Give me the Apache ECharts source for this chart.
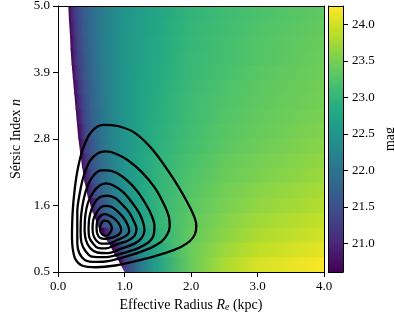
<!DOCTYPE html>
<html><head><meta charset="utf-8">
<script src="https://cdn.jsdelivr.net/npm/echarts@6/dist/echarts.min.js"></script>
<style>html,body{margin:0;padding:0;background:#fff}#c{width:394px;height:312px}</style>
</head><body><div id="c"></div>
<script>
// ---- data ----
const magMin = 20.61, magMax = 24.25;
// Re nodes (kpc) at which the surface-brightness field was read
const reNodes = [0.2, 0.25, 0.3, 0.4, 0.5, 0.6, 0.7, 0.8, 1.0, 1.25, 1.5, 2.0, 2.5, 3.0, 4.0];
// n band edges
const nEdges = [0.5,0.75,1.0,1.25,1.5,1.75,2.0,2.25,2.5,2.75,3.0,3.25,3.5,3.75,4.0,4.25,4.5,4.75,5.0];
// left edge of the coloured (defined) region, Re at each n edge
const boundaryRe = [1.00,0.87,0.75,0.61,0.52,0.45,0.40,0.365,0.335,0.305,0.285,0.265,0.245,0.225,0.205,0.19,0.18,0.165,0.155];
// mag values per n band (bottom to top) at reNodes (null = undefined / white)
const magRows = [
  [null,null,null,null,null,null,null,null,21.25,22.10,22.68,23.40,23.78,24.02,24.23],
  [null,null,null,null,null,null,null,null,21.70,22.35,22.82,23.40,23.70,23.90,24.12],
  [null,null,null,null,null,null,20.84,21.45,22.03,22.54,22.90,23.36,23.61,23.79,24.01],
  [null,null,null,null,null,20.98,21.49,21.79,22.26,22.67,22.97,23.33,23.56,23.72,23.92],
  [null,null,null,null,20.77,21.38,21.71,21.98,22.36,22.71,22.97,23.30,23.50,23.64,23.83],
  [null,null,null,null,21.19,21.59,21.86,22.08,22.42,22.75,22.97,23.26,23.46,23.59,23.77],
  [null,null,null,20.81,21.40,21.70,21.95,22.15,22.45,22.75,22.96,23.23,23.41,23.53,23.70],
  [null,null,null,21.05,21.48,21.77,22.00,22.17,22.47,22.74,22.93,23.19,23.37,23.48,23.65],
  [null,null,null,21.20,21.56,21.83,22.04,22.21,22.47,22.73,22.90,23.15,23.31,23.43,23.60],
  [null,null,20.66,21.30,21.63,21.87,22.07,22.23,22.48,22.71,22.89,23.12,23.29,23.39,23.56],
  [null,null,20.84,21.38,21.68,21.91,22.09,22.24,22.48,22.71,22.87,23.10,23.25,23.37,23.52],
  [null,null,21.00,21.44,21.73,21.94,22.11,22.26,22.49,22.71,22.86,23.09,23.23,23.34,23.49],
  [null,20.75,21.12,21.50,21.76,21.96,22.12,22.26,22.49,22.70,22.84,23.07,23.21,23.32,23.47],
  [null,20.92,21.20,21.55,21.80,21.98,22.14,22.27,22.49,22.69,22.83,23.04,23.18,23.29,23.45],
  [20.63,21.03,21.26,21.59,21.82,22.01,22.15,22.28,22.50,22.67,22.81,23.03,23.16,23.26,23.42],
  [20.74,21.09,21.31,21.62,21.85,22.02,22.17,22.29,22.50,22.67,22.80,23.01,23.15,23.25,23.40],
  [20.85,21.14,21.36,21.66,21.86,22.03,22.16,22.29,22.49,22.65,22.78,23.00,23.12,23.23,23.38],
  [20.95,21.20,21.40,21.68,21.88,22.04,22.17,22.28,22.47,22.63,22.77,22.97,23.10,23.20,23.35]
];
// contour lines [Re, n], innermost first
const contour1 = [[0.63,1.24],[0.65,1.32],[0.69,1.37],[0.75,1.36],[0.79,1.31],[0.81,1.24],[0.78,1.16],[0.73,1.11],[0.67,1.13],[0.64,1.18],[0.63,1.24]];
const contour2 = [[0.58,1.24],[0.59,1.36],[0.64,1.45],[0.71,1.48],[0.78,1.45],[0.87,1.38],[0.93,1.29],[0.95,1.21],[0.91,1.13],[0.81,1.08],[0.71,1.06],[0.63,1.08],[0.59,1.15],[0.58,1.24]];
const contour3 = [[0.52,1.23],[0.53,1.38],[0.58,1.51],[0.65,1.60],[0.72,1.62],[0.81,1.60],[0.90,1.52],[0.99,1.41],[1.05,1.29],[1.07,1.19],[1.02,1.11],[0.89,1.04],[0.75,0.98],[0.65,0.98],[0.57,1.04],[0.53,1.13],[0.52,1.23]];
const contour4 = [[0.46,1.21],[0.47,1.41],[0.51,1.58],[0.58,1.72],[0.66,1.78],[0.75,1.79],[0.86,1.75],[0.96,1.65],[1.07,1.51],[1.14,1.36],[1.18,1.23],[1.15,1.11],[1.05,1.03],[0.89,0.97],[0.72,0.90],[0.60,0.91],[0.52,0.99],[0.47,1.09],[0.46,1.21]];
const contour5 = [[0.40,1.19],[0.41,1.45],[0.45,1.67],[0.53,1.85],[0.62,1.96],[0.72,2.00],[0.84,1.96],[0.98,1.85],[1.11,1.68],[1.22,1.50],[1.28,1.34],[1.30,1.21],[1.26,1.08],[1.15,0.98],[0.96,0.90],[0.75,0.82],[0.59,0.83],[0.48,0.91],[0.42,1.04],[0.40,1.19]];
const contour6 = [[0.34,1.18],[0.35,1.48],[0.39,1.75],[0.45,1.97],[0.54,2.14],[0.65,2.22],[0.75,2.22],[0.89,2.17],[1.04,2.05],[1.19,1.87],[1.32,1.65],[1.41,1.45],[1.45,1.28],[1.44,1.13],[1.36,1.00],[1.20,0.90],[0.95,0.81],[0.70,0.75],[0.51,0.76],[0.41,0.86],[0.35,1.01],[0.34,1.18]];
const contour7 = [[0.29,1.18],[0.29,1.51],[0.33,1.85],[0.39,2.14],[0.48,2.38],[0.60,2.51],[0.72,2.54],[0.87,2.50],[1.05,2.39],[1.26,2.19],[1.46,1.92],[1.60,1.63],[1.67,1.42],[1.68,1.27],[1.64,1.13],[1.55,1.01],[1.38,0.90],[1.08,0.78],[0.78,0.69],[0.57,0.67],[0.41,0.70],[0.32,0.82],[0.29,0.99],[0.29,1.18]];
const contour8 = [[0.21,1.13],[0.22,1.51],[0.25,1.89],[0.30,2.26],[0.38,2.60],[0.50,2.87],[0.68,2.99],[0.90,2.97],[1.16,2.85],[1.43,2.56],[1.71,2.12],[1.93,1.71],[2.04,1.46],[2.08,1.29],[2.06,1.14],[1.98,1.02],[1.84,0.92],[1.61,0.82],[1.23,0.70],[0.86,0.61],[0.57,0.58],[0.36,0.61],[0.26,0.72],[0.22,0.91],[0.21,1.13]];
const contours = [contour1, contour2, contour3, contour4, contour5, contour6, contour7, contour8];
// ticks
const xTickValues = [0, 1, 2, 3, 4];
const xTickLabels = ['0.0', '1.0', '2.0', '3.0', '4.0'];
const yTickValues = [0.5, 1.625, 2.75, 3.875, 5.0];
const yTickLabels = ['0.5', '1.6', '2.8', '3.9', '5.0'];
const cbTickValues = [21.0, 21.5, 22.0, 22.5, 23.0, 23.5, 24.0];
const cbTickLabels = ['21.0', '21.5', '22.0', '22.5', '23.0', '23.5', '24.0'];

// ---- styling ----
const FONT = 'Liberation Serif';
const viridis = ['#440154','#482475','#414487','#355f8d','#2a788e','#21918c','#22a884','#44bf70','#7ad151','#bddf26','#fde725'];
const vRgb = viridis.map(h => [parseInt(h.slice(1,3),16), parseInt(h.slice(3,5),16), parseInt(h.slice(5,7),16)]);
function magColor(v) {
  let t = (v - magMin) / (magMax - magMin);
  t = Math.max(0, Math.min(1, t));
  const s = t * (vRgb.length - 1);
  const i = Math.min(Math.floor(s), vRgb.length - 2);
  const f = s - i, a = vRgb[i], b = vRgb[i + 1];
  return 'rgb(' + [0,1,2].map(k => Math.round(a[k] + (b[k] - a[k]) * f)).join(',') + ')';
}
const lbl = (vals, texts) => v => { const k = vals.findIndex(x => Math.abs(x - v) < 1e-9); return k >= 0 ? texts[k] : ''; };
const lineBlack = { show: true, onZero: false, lineStyle: { color: '#000', width: 1 } };
const tickStyle = { show: true, inside: false, length: 5, lineStyle: { color: '#000', width: 1 } };
const labelStyle = { color: '#000', fontFamily: FONT, fontSize: 13 };
const NF = 14;
const nameStyle = {
  color: '#000', fontFamily: FONT, fontSize: NF,
  rich: {
    t: { fontFamily: FONT, fontSize: NF, color: '#000' },
    i: { fontFamily: FONT, fontSize: NF, fontStyle: 'italic', color: '#000' },
    s: { fontFamily: FONT, fontSize: 10, fontStyle: 'italic', color: '#000', verticalAlign: 'bottom' }
  }
};
const bare = (extra) => Object.assign({ type: 'value', axisLine: lineBlack, axisTick: { show: false }, axisLabel: { show: false }, splitLine: { show: false }, z: 10 }, extra);

const chart = echarts.init(document.getElementById('c'), null, { renderer: 'canvas' });
chart.setOption({
  animation: false,
  backgroundColor: '#fff',
  grid: [
    { left: 58, top: 6, width: 266, height: 266, containLabel: false, outerBoundsMode: 'none' },
    { left: 328.5, top: 6, width: 14.5, height: 266, containLabel: false, outerBoundsMode: 'none' }
  ],
  xAxis: [
    bare({ gridIndex: 0, position: 'bottom', min: 0, max: 4,
      axisTick: Object.assign({ customValues: xTickValues }, tickStyle),
      axisLabel: Object.assign({ show: true, margin: 8, customValues: xTickValues, formatter: lbl(xTickValues, xTickLabels) }, labelStyle),
      name: '{t|Effective Radius }{i|R}{s|e}{t| (kpc)}', nameLocation: 'middle', nameGap: 24, nameTextStyle: nameStyle }),
    bare({ gridIndex: 0, position: 'top', min: 0, max: 4 }),
    bare({ gridIndex: 1, position: 'bottom', min: 0, max: 1 }),
    bare({ gridIndex: 1, position: 'top', min: 0, max: 1 })
  ],
  yAxis: [
    bare({ gridIndex: 0, position: 'left', min: 0.5, max: 5,
      axisTick: Object.assign({ customValues: yTickValues }, tickStyle),
      axisLabel: Object.assign({ show: true, margin: 8, customValues: yTickValues, formatter: lbl(yTickValues, yTickLabels) }, labelStyle),
      name: '{t|Sérsic Index }{i|n}', nameLocation: 'middle', nameGap: 27, nameTextStyle: nameStyle }),
    bare({ gridIndex: 0, position: 'right', min: 0.5, max: 5 }),
    bare({ gridIndex: 1, position: 'left', min: magMin, max: magMax }),
    bare({ gridIndex: 1, position: 'right', min: magMin, max: magMax,
      axisTick: Object.assign({ customValues: cbTickValues }, tickStyle),
      axisLabel: Object.assign({ show: true, margin: 9, customValues: cbTickValues, formatter: lbl(cbTickValues, cbTickLabels) }, labelStyle),
      name: 'mag', nameLocation: 'middle', nameGap: 40, nameRotate: 90, nameTextStyle: { color: '#000', fontFamily: FONT, fontSize: NF } })
  ],
  series: [
    {
      type: 'custom', xAxisIndex: 0, yAxisIndex: 0, silent: true, z: 1, clip: true,
      data: magRows.map((row, i) => [2, (nEdges[i] + nEdges[i + 1]) / 2]),
      renderItem: function (params, api) {
        const i = params.dataIndex;
        const nLo = nEdges[i], nHi = nEdges[i + 1];
        const bLo = boundaryRe[i], bHi = boundaryRe[i + 1];
        const reMax = reNodes[reNodes.length - 1];
        const p1 = api.coord([bLo, nLo]), p2 = api.coord([reMax, nLo]);
        const p3 = api.coord([reMax, nHi]), p4 = api.coord([bHi, nHi]);
        if (i < magRows.length - 1) { p3[1] -= 1.5; p4[1] -= 1.5; }
        const bMid = (bLo + bHi) / 2;
        const x0 = api.coord([bMid, nLo])[0], x1 = p2[0];
        const stops = [{ offset: 0, color: magColor(magMin) }];
        reNodes.forEach((re, k) => {
          const v = magRows[i][k];
          if (v == null || re <= bMid) return;
          stops.push({ offset: Math.min(1, (api.coord([re, nLo])[0] - x0) / (x1 - x0)), color: magColor(v) });
        });
        return { type: 'polygon', shape: { points: [p1, p2, p3, p4] },
          style: { fill: { type: 'linear', x: x0, y: 0, x2: x1, y2: 0, global: true, colorStops: stops } } };
      }
    },
    ...contours.map(c => ({
      type: 'line', xAxisIndex: 0, yAxisIndex: 0, data: c, smooth: 0.35, showSymbol: false, symbol: 'none',
      silent: true, z: 5, lineStyle: { color: '#000', width: 2.3 }
    })),
    {
      type: 'custom', xAxisIndex: 2, yAxisIndex: 3, silent: true, z: 1,
      data: [[0.5, (magMin + magMax) / 2]],
      renderItem: function (params, api) {
        const a = api.coord([0, magMin]), b = api.coord([1, magMax]);
        return { type: 'rect', shape: { x: a[0], y: b[1], width: b[0] - a[0], height: a[1] - b[1] },
          style: { fill: { type: 'linear', x: 0, y: 1, x2: 0, y2: 0,
            colorStops: viridis.map((c, k) => ({ offset: k / (viridis.length - 1), color: c })) } } };
      }
    }
  ]
});
</script></body></html>
